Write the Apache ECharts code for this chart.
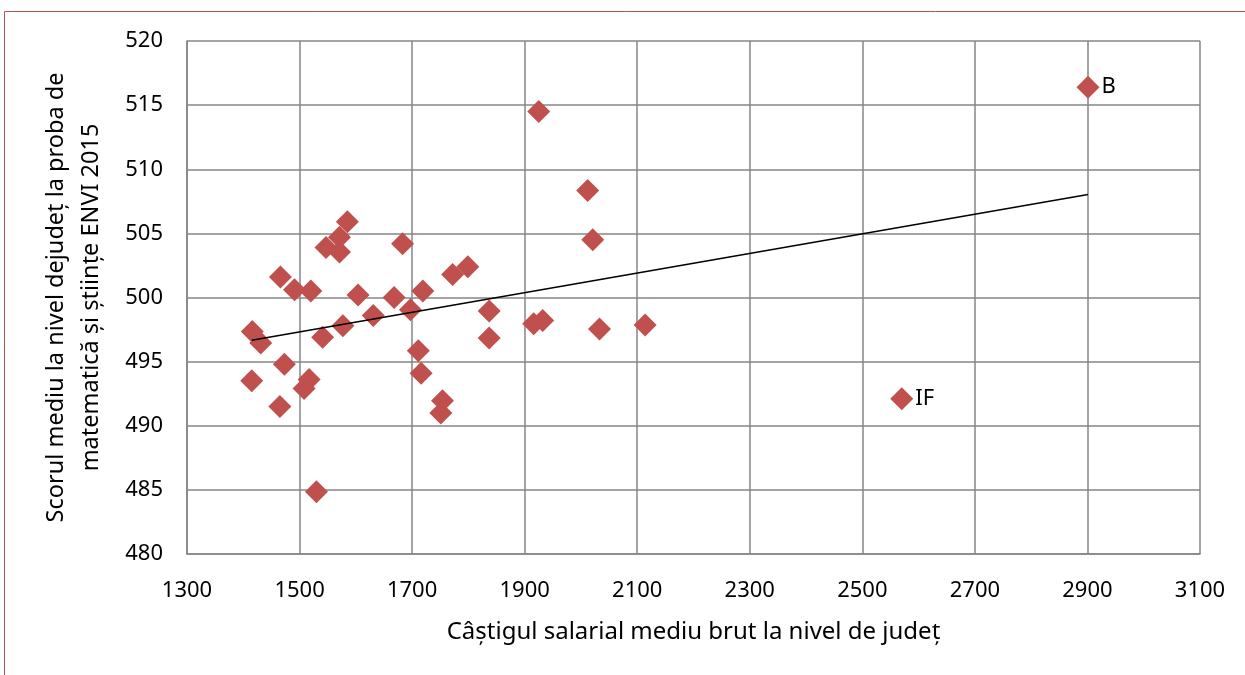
<!DOCTYPE html>
<html><head><meta charset="utf-8">
<script src="https://cdn.jsdelivr.net/npm/echarts@6/dist/echarts.min.js"></script>
<style>html,body{margin:0;padding:0;background:#fff}#c{width:1245px;height:675px}</style>
</head><body><div id="c"></div>
<script>
// Câștigul salarial mediu brut (x) and scorul mediu (y), one per județ
const salary = [1547,1571,1571,1585,1683,1466,1491,1520,1604,1668,1719,1772,1799,1837,1837,1416,1431,1541,1577,1631,1697,1711,1716,1473,1415,1517,1508,1465,1754,1751,1530,1925,2012,2021,1916,1932,2033,2114,2901,2570];
const score  = [503.9,503.55,504.7,505.9,504.2,501.6,500.6,500.5,500.2,500.0,500.5,501.8,502.4,498.95,496.85,497.35,496.45,496.9,497.8,498.6,499.05,495.85,494.1,494.8,493.5,493.6,492.9,491.5,491.95,491.0,484.85,514.5,508.35,504.5,497.95,498.2,497.55,497.85,516.4,492.1];
const pointLabels = ["","","","","","","","","","","","","","","","","","","","","","","","","","","","","","","","","","","","","","","B","IF"];
const xTicks = [1300,1500,1700,1900,2100,2300,2500,2700,2900,3100];
const yTicks = [480,485,490,495,500,505,510,515,520];
const xTitle = "Câștigul salarial mediu brut la nivel de județ";
const yTitle = "Scorul mediu la nivel dejudeț la proba de\nmatematică și științe ENVI 2015";

// linear trendline (least squares) over data range
const n = salary.length;
const mx = salary.reduce((a,b)=>a+b,0)/n, my = score.reduce((a,b)=>a+b,0)/n;
let sxy=0, sxx=0;
for (let i=0;i<n;i++){ sxy += (salary[i]-mx)*(score[i]-my); sxx += (salary[i]-mx)**2; }
const slope = sxy/sxx, icpt = my - slope*mx;
const xmin = Math.min(...salary), xmax = Math.max(...salary);
const trend = [[xmin, icpt+slope*xmin],[xmax, icpt+slope*xmax]];

const font = 'Noto Sans';
const pts = salary.map((x,i)=>{
  const it = {value:[x,score[i]]};
  if (pointLabels[i]) it.label = {show:true, formatter: pointLabels[i], position:'right', distance:2, color:'#000', fontSize:22, fontFamily:font};
  return it;
});

const chart = echarts.init(document.getElementById('c'), null, {renderer:'canvas'});
chart.setOption({
  animation:false,
  backgroundColor:'#fff',
  graphic:[{type:'rect', shape:{x:4.5,y:11.5,width:1400,height:800}, style:{fill:'none', stroke:'#c0504d', lineWidth:1}, silent:true, z:-1}],
  grid:{left:187, right:45, top:41, bottom:121, containLabel:false},
  xAxis:{type:'value', min:1300, max:3100, interval:200,
    axisLine:{show:true, lineStyle:{color:'#868686', width:1.5}},
    axisTick:{show:false},
    splitLine:{show:true, lineStyle:{color:'#868686', width:1.5}},
    axisLabel:{color:'#000', fontSize:22, fontFamily:font, margin:26, formatter:v=>xTicks.includes(v)?String(v):''},
    name:xTitle, nameLocation:'middle', nameGap:66,
    nameTextStyle:{color:'#000', fontSize:24, fontFamily:font}
  },
  yAxis:{type:'value', min:480, max:520, interval:5,
    axisLine:{show:true, lineStyle:{color:'#868686', width:1.5}},
    axisTick:{show:false},
    splitLine:{show:true, lineStyle:{color:'#868686', width:1.5}},
    axisLabel:{color:'#000', fontSize:22, fontFamily:font, margin:24, formatter:v=>yTicks.includes(v)?String(v):''},
    name:yTitle, nameLocation:'middle', nameGap:78, nameRotate:90,
    nameTextStyle:{color:'#000', fontSize:23.5, fontFamily:font, lineHeight:35, align:'center', padding:[0,0,0,0]}
  },
  series:[
    {type:'scatter', data:pts, symbol:'diamond', symbolSize:23, itemStyle:{color:'#c0504d', opacity:1}, z:3},
    {type:'line', data:trend, symbol:'none', lineStyle:{color:'#000', width:1.5}, z:4, silent:true}
  ]
});
</script></body></html>
